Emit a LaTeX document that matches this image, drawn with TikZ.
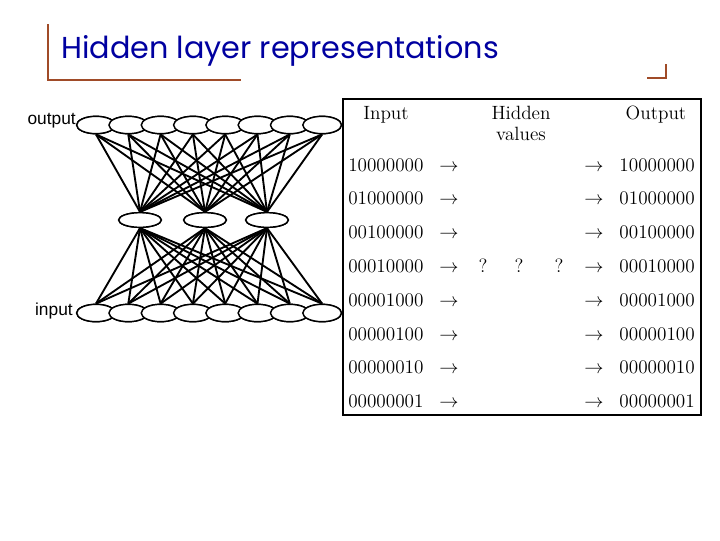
\documentclass[tikz,border=0pt]{standalone}
\usepackage{fontspec}
\usetikzlibrary{shapes.geometric}
\newfontfamily\titlefont{Poppins}
\newfontfamily\labfont{Liberation Sans}
\definecolor{brk}{RGB}{160,75,40}
\definecolor{ttl}{RGB}{0,0,160}
\tikzset{
  unit/.style={ellipse,draw,fill=white,line width=1.1pt,minimum width=29pt,minimum height=13pt,inner sep=0pt},
  hunit/.style={ellipse,draw,fill=white,line width=1.1pt,minimum width=32pt,minimum height=11pt,inner sep=0pt},
  wire/.style={line width=1.4pt},
  tab/.style={font=\fontsize{14.4}{16}\selectfont,inner sep=0pt},
  lab/.style={font=\labfont\fontsize{13}{15}\selectfont,inner sep=0pt}
}
\begin{document}
\begin{tikzpicture}[x=0.75pt,y=-0.75pt]
\useasboundingbox (0,0) rectangle (720,540);
% title
\draw[brk,line width=2.2pt] (48,24) coordinate (b1) -- (48,80) coordinate (b2) -- (241,80) coordinate (b3);
\draw[brk,line width=2.2pt] (647,78) coordinate (c1) -- (666,78) coordinate (c2) -- (666,64) coordinate (c3);
\node[anchor=base west,inner sep=0pt,text=ttl,font=\titlefont\fontsize{22.7}{26}\selectfont] (title) at (61,58) {Hidden layer representations};
% network
\foreach \i in {1,...,8} {
  \node[unit] (o\i) at ({96+32.3*(\i-1)},125) {};
  \node[unit] (in\i) at ({96+32.3*(\i-1)},313) {};
}
\node[hunit] (h1) at (140,220) {};
\node[hunit] (h2) at (205,220) {};
\node[hunit] (h3) at (267,220) {};
\foreach \i in {1,...,8} {
  \foreach \j in {1,2,3} {
    \draw[wire] (o\i.south) -- (h\j.north);
    \draw[wire] (in\i.north) -- (h\j.south);
  }
}
% redraw nodes on top
\foreach \i in {1,...,8} {
  \node[unit] at (o\i) {};
  \node[unit] at (in\i) {};
}
\node[hunit] at (h1) {};
\node[hunit] at (h2) {};
\node[hunit] at (h3) {};
\node[lab,anchor=east] (outlab) at (76,121) {output};
\node[lab,anchor=east] (inlab) at (73,311) {input};
% table
\draw[line width=1.3pt] (343,99) rectangle (701,415);
\node[tab,anchor=base] (hin) at (386,119) {Input};
\node[tab,anchor=base] (hhid) at (521,119) {Hidden};
\node[tab,anchor=base] (hval) at (521,140) {values};
\node[tab,anchor=base] (hout) at (656,119) {Output};
\foreach \s [count=\k] in {10000000,01000000,00100000,00010000,00001000,00000100,00000010,00000001} {
  \pgfmathsetmacro{\yy}{171+33.8*(\k-1)}
  \node[tab,anchor=base west] (l\k) at (348,\yy) {\s};
  \node[tab,anchor=base west] (la\k) at (439,\yy) {$\rightarrow$};
  \node[tab,anchor=base west] (ra\k) at (584,\yy) {$\rightarrow$};
  \node[tab,anchor=base east] (r\k) at (695,\yy) {\s};
}
\node[tab,anchor=base] (q1) at (483,272.4) {?};
\node[tab,anchor=base] (q2) at (519,272.4) {?};
\node[tab,anchor=base] (q3) at (559,272.4) {?};
\end{tikzpicture}
\end{document}
